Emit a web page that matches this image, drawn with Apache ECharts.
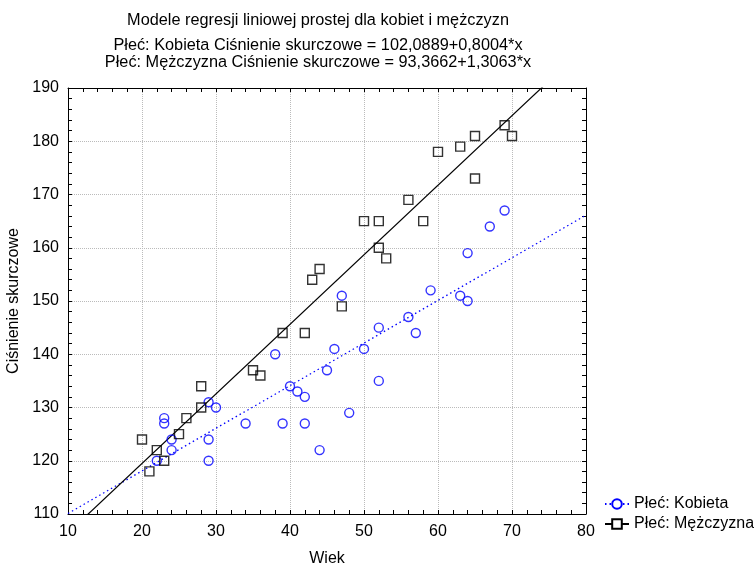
<!DOCTYPE html>
<html>
<head>
<meta charset="utf-8">
<script src="https://cdn.jsdelivr.net/npm/echarts@6/dist/echarts.min.js"></script>
<style>
  html, body { margin: 0; padding: 0; background: #fff; }
  #chart { width: 754px; height: 565px; }
</style>
</head>
<body>
<div id="chart"></div>
<script>
// dane
var womenAge = [22, 23, 23, 24, 24, 29, 29, 29, 30, 34, 38, 39, 40, 41, 42, 42, 44, 45, 46, 47, 48, 50, 52, 52, 56, 57, 59, 63, 64, 64, 67, 69];
var womenBp  = [120, 128, 127, 124, 122, 131, 124, 120, 130, 127, 140, 127, 134, 133, 132, 127, 122, 137, 141, 151, 129, 141, 135, 145, 147, 144, 152, 151, 150, 159, 164, 167];

var menAge = [20, 21, 22, 23, 25, 26, 28, 28, 35, 36, 39, 42, 43, 44, 47, 50, 52, 52, 53, 56, 58, 60, 63, 65, 65, 69, 70];
var menBp  = [124, 118, 122, 120, 125, 128, 130, 134, 137, 136, 144, 144, 154, 156, 149, 165, 165, 160, 158, 169, 165, 178, 179, 181, 173, 183, 181];

// wspolczynniki regresji (z tytulu)
var womenFit = [102.0889, 0.8004];
var menFit = [93.3662, 1.3063];

var xTicks = [10, 80];
var yTicks = [110, 190];

var FONT = '"Liberation Sans", Arial, sans-serif';

function pairs(xs, ys) {
	var out = [];
	for (var i = 0; i < xs.length; i++) out.push([xs[i], ys[i]]);
	return out;
}

function fitLine(c) {
	return [[xTicks[0], c[0] + c[1] * xTicks[0]], [xTicks[1], c[0] + c[1] * xTicks[1]]];
}

var chart = echarts.init(document.getElementById('chart'));

var axisCommon = {
	type: 'value',
	axisLine: { show: true, onZero: false, lineStyle: { color: '#000', width: 1 } },
	axisTick: { show: true, inside: true, length: 4, lineStyle: { color: '#000' } },
	minorTick: { show: true, splitNumber: 5, length: 4, lineStyle: { color: '#000' } },
	axisLabel: { color: '#000', fontFamily: FONT, fontSize: 16 }
};

chart.setOption({
	animation: false,
	title: [
		{
			text: 'Modele regresji liniowej prostej dla kobiet i mężczyzn',
			left: 313, top: 8, textAlign: 'center',
			textStyle: { fontFamily: FONT, fontSize: 16.3, fontWeight: 'normal', color: '#000' }
		},
		{
			text: 'Płeć: Kobieta Ciśnienie skurczowe = 102,0889+0,8004*x\nPłeć: Mężczyzna Ciśnienie skurczowe = 93,3662+1,3063*x',
			left: 313, top: 32, textAlign: 'center',
			textStyle: { fontFamily: FONT, fontSize: 16.3, fontWeight: 'normal', color: '#000', lineHeight: 17 }
		}
	],
	grid: { left: 68, right: 168, top: 88, bottom: 51, containLabel: false, outerBoundsMode: 'none' },
	legend: {
		orient: 'vertical',
		left: 599, top: 491,
		itemWidth: 24, itemHeight: 12, itemGap: 4,
		textStyle: { fontFamily: FONT, fontSize: 16, color: '#000' },
		data: ['Płeć: Kobieta', 'Płeć: Mężczyzna']
	},
	xAxis: [
		Object.assign({}, axisCommon, {
			min: xTicks[0], max: xTicks[1], interval: 10,
			position: 'bottom',
			name: 'Wiek', nameLocation: 'middle', nameGap: 37,
			nameTextStyle: { fontFamily: FONT, fontSize: 16, color: '#000' },
			axisLabel: Object.assign({}, axisCommon.axisLabel, { margin: 10 }),
			splitLine: { show: true, lineStyle: { color: '#bbb', type: 'dotted', width: 1 } }
		}),
		Object.assign({}, axisCommon, {
			min: xTicks[0], max: xTicks[1], interval: 10,
			position: 'top',
			axisLabel: { show: false },
			splitLine: { show: false }
		})
	],
	yAxis: [
		Object.assign({}, axisCommon, {
			min: yTicks[0], max: yTicks[1], interval: 10,
			position: 'left',
			name: 'Ciśnienie skurczowe', nameLocation: 'middle', nameGap: 40, nameRotate: 90,
			nameTextStyle: { fontFamily: FONT, fontSize: 16, color: '#000' },
			axisLabel: Object.assign({}, axisCommon.axisLabel, { margin: 9 }),
			splitLine: { show: true, lineStyle: { color: '#bbb', type: 'dotted', width: 1 } }
		}),
		Object.assign({}, axisCommon, {
			min: yTicks[0], max: yTicks[1], interval: 10,
			position: 'right',
			axisLabel: { show: false },
			splitLine: { show: false }
		})
	],
	series: [
		{
			name: 'Płeć: Kobieta',
			type: 'line',
			data: fitLine(womenFit),
			showSymbol: false,
			symbol: 'circle', symbolSize: 8,
			itemStyle: { color: '#fff', borderColor: '#0000ff', borderWidth: 1.3 },
			lineStyle: { color: '#0000ff', width: 1.3, type: [1.5, 3] },
			clip: true, silent: true, z: 2
		},
		{
			name: 'Płeć: Mężczyzna',
			type: 'line',
			data: fitLine(menFit),
			showSymbol: false,
			symbol: 'rect', symbolSize: 8,
			itemStyle: { color: '#fff', borderColor: '#000', borderWidth: 1.3 },
			lineStyle: { color: '#000', width: 1.2 },
			clip: true, silent: true, z: 2
		},
		{
			name: 'Płeć: Kobieta',
			type: 'scatter',
			data: pairs(womenAge, womenBp),
			symbol: 'circle', symbolSize: 9,
			itemStyle: { color: 'rgba(255,255,255,0)', borderColor: '#0000ff', borderWidth: 1.4 },
			z: 3
		},
		{
			name: 'Płeć: Mężczyzna',
			type: 'scatter',
			data: pairs(menAge, menBp),
			symbol: 'rect', symbolSize: 9,
			itemStyle: { color: 'rgba(255,255,255,0)', borderColor: '#000', borderWidth: 1.4 },
			z: 3
		}
	]
});
</script>
</body>
</html>
